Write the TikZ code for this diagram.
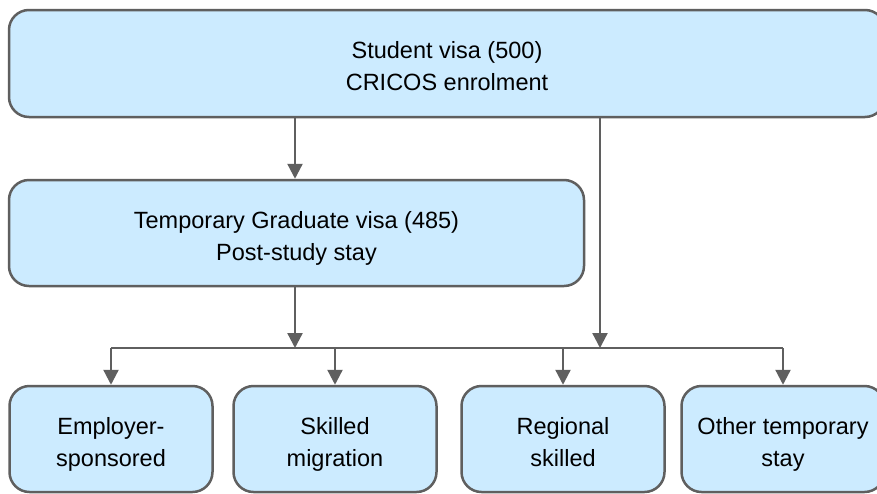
\documentclass[tikz,border=0pt]{standalone}
\usepackage{fontspec}
\setmainfont{Liberation Sans}
\usetikzlibrary{arrows.meta}
\definecolor{boxfill}{RGB}{204,235,255}
\definecolor{edgegray}{RGB}{95,95,95}
\newcommand\lnstrut{\rule[-5pt]{0pt}{32pt}}
\begin{document}
\begin{tikzpicture}[x=1pt,y=-1pt,
  box/.style={draw=edgegray, fill=boxfill, line width=2.5pt, rounded corners=20pt,
    align=center, font=\fontsize{23.5}{32}\selectfont, inner sep=0pt},
  smallbox/.style={box, minimum width=203pt, minimum height=106pt},
  conn/.style={draw=edgegray, line width=2.3pt, -{Triangle[length=15pt,width=15pt]}},
  busline/.style={draw=edgegray, line width=2.3pt}]
\useasboundingbox (0,0) rectangle (877,493);
\clip (0,0) rectangle (877,493);
\fill[white] (0,0) rectangle (877,493);
\node[box, minimum width=876pt, minimum height=107pt] (top) at (447,63.5)
  {\lnstrut Student visa (500)\\\lnstrut CRICOS enrolment};
\node[box, minimum width=575pt, minimum height=106pt] (grad) at (296.5,233)
  {\lnstrut Temporary Graduate visa (485)\\\lnstrut Post-study stay};
\node[smallbox] (emp) at (111,439) {\lnstrut Employer-\\\lnstrut sponsored};
\node[smallbox] (skm) at (335,439) {\lnstrut Skilled\\\lnstrut migration};
\node[smallbox] (reg) at (563,439) {\lnstrut Regional\\\lnstrut skilled};
\node[smallbox] (oth) at (783,439) {\lnstrut Other temporary\\\lnstrut stay};
\coordinate (busL) at (111,348);
\coordinate (busR) at (783,348);
\coordinate (jgrad) at (295,348);
\coordinate (jtop) at (600,348);
\draw[busline] (busL) -- (busR);
\draw[conn] (top.south -| jgrad) -- (grad.north -| jgrad);
\draw[conn] (top.south -| jtop) -- (jtop);
\draw[conn] (grad.south -| jgrad) -- (jgrad);
\draw[conn] (jgrad -| emp.north) -- (emp.north);
\draw[conn] (jgrad -| skm.north) -- (skm.north);
\draw[conn] (jgrad -| reg.north) -- (reg.north);
\draw[conn] (jgrad -| oth.north) -- (oth.north);
\end{tikzpicture}
\end{document}
